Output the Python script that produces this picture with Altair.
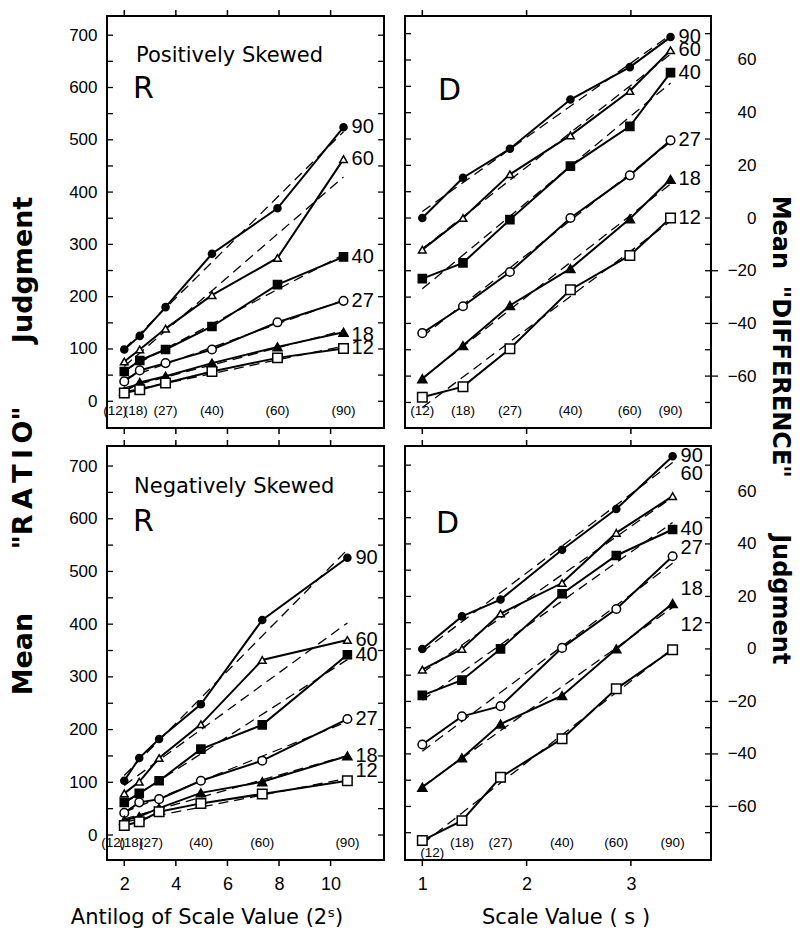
import altair as alt
import pandas as pd

# ---------------- data ----------------
SERIES = ["90", "60", "40", "27", "18", "12"]
STIM_LABELS = ["(12)", "(18)", "(27)", "(40)", "(60)", "(90)"]

# stimulus positions (x) for each distribution
POS_ANTILOG = [2.0, 2.6, 3.6, 5.4, 7.94, 10.5]
POS_S = [1.0, 1.39, 1.84, 2.42, 2.99, 3.38]
NEG_ANTILOG = [2.0, 2.58, 3.35, 4.97, 7.35, 10.65]
NEG_S = [1.0, 1.38, 1.75, 2.34, 2.86, 3.40]

# Positively skewed, "ratio" judgments
POS_R = {
    "90": [99, 125, 180, 282, 369, 524],
    "60": [76, 99, 139, 203, 274, 463],
    "40": [57, 78, 99, 143, 223, 276],
    "27": [38, 59, 73, 99, 151, 192],
    "18": [19, 36, 48, 73, 104, 132],
    "12": [16, 22, 35, 57, 83, 101],
}
# Positively skewed, "difference" judgments
POS_D = {
    "90": [0, 15.3, 26.3, 45.0, 57.3, 68.7],
    "60": [-12.0, 0, 16.6, 31.4, 48.2, 63.7],
    "40": [-23.0, -17.0, -0.6, 19.7, 34.8, 55.2],
    "27": [-43.7, -33.5, -20.5, 0, 16.2, 29.5],
    "18": [-61.0, -48.4, -33.2, -19.2, -0.3, 14.7],
    "12": [-68.0, -64.0, -49.6, -27.2, -14.2, 0],
}
# Negatively skewed, "ratio" judgments
NEG_R = {
    "90": [103, 146, 182, 248, 408, 526],
    "60": [79, 101, 146, 210, 332, 370],
    "40": [62, 79, 103, 163, 209, 342],
    "27": [42, 62, 68, 103, 141, 220],
    "18": [28, 35, 51, 80, 101, 150],
    "12": [18, 25, 44, 60, 78, 103],
}
# Negatively skewed, "difference" judgments
NEG_D = {
    "90": [0, 12.4, 18.8, 37.8, 53.3, 73.4],
    "60": [-7.9, 0, 13.5, 25.1, 44.2, 58.2],
    "40": [-17.7, -11.9, 0, 21.0, 35.6, 45.5],
    "27": [-36.4, -25.7, -21.8, 0.4, 15.2, 35.3],
    "18": [-52.7, -41.5, -28.6, -17.8, 0, 17.3],
    "12": [-73.0, -65.4, -48.9, -34.2, -15.2, -0.3],
}

R_LABELS = [0, 100, 200, 300, 400, 500, 600, 700]
R_MINOR = [0, 50, 100, 150, 200, 250, 300, 350, 400, 450, 500, 550, 600, 650, 700]
D_LABELS = [-60, -40, -20, 0, 20, 40, 60]
D_MINOR = [-70, -60, -50, -40, -30, -20, -10, 0, 10, 20, 30, 40, 50, 60, 70]
D_OUTWARD = [-60, -40, -20]
X_LEFT_TICKS = [2, 4, 6, 8, 10]
X_RIGHT_TICKS = [1, 2, 3]

FONT = "Liberation Sans"
TFONT = "DejaVu Sans"

shape_scale = alt.Scale(domain=SERIES, range=["circle", "triangle-up", "square", "circle", "triangle-up", "square"])
fill_scale = alt.Scale(domain=SERIES, range=["black", "white", "black", "white", "black", "white"])
size_scale = alt.Scale(domain=SERIES, range=[50, 90, 75, 38, 85, 70])


def make_df(xs, vals):
    rows = []
    for s in SERIES:
        for x, v in zip(xs, vals[s]):
            rows.append({"x": x, "y": v, "series": s})
    return pd.DataFrame(rows)


def panel(xs_stim, vals, xdom, ydom, W, H, xmaj, kind, bottom_row,
          label_dy, texts, stim_shift=None):
    df = make_df(xs_stim, vals)
    xsc = alt.Scale(domain=xdom, nice=False, zero=False)
    ysc = alt.Scale(domain=ydom, nice=False, zero=False)
    if bottom_row:
        xaxis = alt.Axis(values=xmaj, ticks=False, tickSize=0, domain=False, grid=False,
                         labelPadding=15, labelFont=FONT, labelFontSize=18,
                         labelColor="black", title=None, format="d")
    else:
        xaxis = None
    if kind == "R":
        yaxis = alt.Axis(orient="left", values=R_LABELS, ticks=False, tickSize=0, domain=False,
                         grid=False, labelPadding=10, labelFont=FONT, labelFontSize=17,
                         labelColor="black", title=None, format="d")
        minor = R_MINOR
    else:
        yaxis = alt.Axis(orient="right", values=D_LABELS, ticks=False, tickSize=0, domain=False,
                         grid=False, labelPadding=45, labelAlign="right", labelFont=FONT,
                         labelFontSize=17, labelColor="black", title=None, format="d")
        minor = D_MINOR
    X = alt.X("x:Q", scale=xsc, axis=xaxis)
    Y = alt.Y("y:Q", scale=ysc, axis=yaxis)

    base = alt.Chart(df)
    layers = []
    layers.append(base.mark_line(color="black", strokeWidth=2).encode(X, Y, detail="series:N"))
    layers.append(
        base.transform_regression("x", "y", groupby=["series"])
        .mark_line(color="black", strokeWidth=1.3, strokeDash=[10, 6])
        .encode(X, Y, detail="series:N")
    )
    layers.append(
        base.mark_point(filled=True, stroke="black", strokeWidth=1.5, opacity=1)
        .encode(X, Y,
                shape=alt.Shape("series:N", scale=shape_scale, legend=None),
                fill=alt.Fill("series:N", scale=fill_scale, legend=None),
                size=alt.Size("series:N", scale=size_scale, legend=None))
    )
    # series labels at the last point
    last = df.groupby("series", sort=False).tail(1)
    for s in SERIES:
        layers.append(
            alt.Chart(last[last["series"] == s])
            .mark_text(align="left", baseline="middle", dx=8, dy=label_dy.get(s, 0),
                       font=FONT, fontSize=20, color="black")
            .encode(X, Y, text="series:N")
        )
    # stimulus labels inside the bottom of the frame
    stim = pd.DataFrame({"x": xs_stim, "lab": STIM_LABELS})
    stim_shift = stim_shift or {}
    for i, lab in enumerate(STIM_LABELS):
        dx, dy = stim_shift.get(i, (0, 0))
        layers.append(
            alt.Chart(stim.iloc[[i]])
            .mark_text(baseline="middle", align="center", dx=dx, dy=dy,
                       font=FONT, fontSize=13.5, color="black")
            .encode(X, y=alt.value(H - 17), text="lab:N")
        )
    # x ticks outward on top and bottom edges
    xt = pd.DataFrame({"x": xmaj})
    layers.append(alt.Chart(xt).mark_rule(color="black", strokeWidth=1.5)
                  .encode(X, y=alt.value(-6), y2=alt.value(0)))
    layers.append(alt.Chart(xt).mark_rule(color="black", strokeWidth=1.5)
                  .encode(X, y=alt.value(H), y2=alt.value(H + 6)))
    # y ticks inward on both frames
    yt = pd.DataFrame({"y": minor})
    layers.append(alt.Chart(yt).mark_rule(color="black", strokeWidth=1.3)
                  .encode(Y, x=alt.value(0), x2=alt.value(6)))
    layers.append(alt.Chart(yt).mark_rule(color="black", strokeWidth=1.3)
                  .encode(Y, x=alt.value(W - 6), x2=alt.value(W)))
    if kind == "D":
        yo = pd.DataFrame({"y": D_OUTWARD})
        layers.append(alt.Chart(yo).mark_rule(color="black", strokeWidth=1.3)
                      .encode(Y, x=alt.value(W), x2=alt.value(W + 7)))
    # annotation texts
    for t in texts:
        props = dict(font=t.get("font", TFONT), fontSize=t["size"], color="black",
                     align=t.get("align", "left"), baseline="middle",
                     fontWeight=t.get("weight", "normal"))
        if "angle" in t:
            props["angle"] = t["angle"]
        layers.append(
            alt.Chart(pd.DataFrame({"t": [t["text"]]}))
            .mark_text(**props)
            .encode(x=alt.value(t["x"]), y=alt.value(t["y"]), text="t:N")
        )
    return alt.layer(*layers).properties(width=W, height=H)


GAP = "\u2003\u2003\u00a0"
TH = "\u2009"
RATIO = "\"" + TH.join("RATIO") + "\""

TL = panel(POS_ANTILOG, POS_R, [1.33, 12.07], [-51.1, 736.7], 277, 412, X_LEFT_TICKS, "R", False,
           {"18": 3},
           [dict(text="Positively  Skewed", x=29, y=40, size=21),
            dict(text="R", x=26, y=73, size=30),
            dict(text="Mean" + GAP + RATIO + GAP + "Judgment", x=-83, y=430, size=27,
                 angle=270, align="center", weight="bold")],
           stim_shift={0: (-9, 0), 1: (-4, 0)})
TR = panel(POS_S, POS_D, [0.834, 3.768], [-79.7, 76.7], 306, 412, X_RIGHT_TICKS, "D", False,
           {},
           [dict(text="D", x=33, y=75, size=30),
            dict(text="Mean\u00a0\u00a0\"DIFFERENCE\"" + GAP + "Judgment", x=375, y=414, size=24,
                 angle=90, align="center", weight="bold")])
BL = panel(NEG_ANTILOG, NEG_R, [1.33, 12.07], [-47.4, 738], 277, 414, X_LEFT_TICKS, "R", True,
           {"12": -10},
           [dict(text="Negatively  Skewed", x=27, y=41, size=21),
            dict(text="R", x=26, y=76, size=30),
            dict(text="Antilog  of  Scale  Value  (2\u02e2)", x=100, y=472, size=21, align="center")],
           stim_shift={0: (-11, 0), 1: (-8, 0), 2: (-8, 0)})
BR = panel(NEG_S, NEG_D, [0.834, 3.768], [-80.4, 77.3], 306, 414, X_RIGHT_TICKS, "D", True,
           {"60": -22, "27": -8, "18": -15, "12": -25},
           [dict(text="D", x=31, y=78, size=30),
            dict(text="Scale  Value   ( s )", x=161, y=472, size=21, align="center")],
           stim_shift={0: (10, 10)})

chart = (
    alt.concat(TL, TR, BL, BR, columns=2, spacing={"row": 18, "column": 21}, bounds="flush")
    .properties(padding=0, background="white")
    .configure_view(stroke="black", strokeWidth=2, fill="white")
)

chart.save("out.html", embed_options={"renderer": "svg", "actions": False})
